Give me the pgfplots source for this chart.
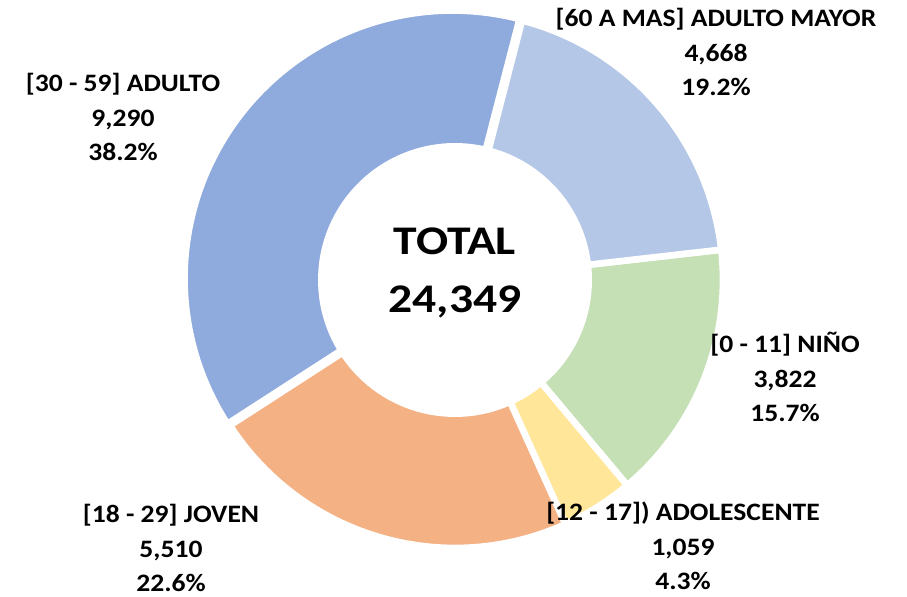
\documentclass[border=0pt]{standalone}
\usepackage{pgfplots}
\pgfplotsset{compat=1.18}
\usepackage{fontspec}
\setmainfont{Carlito}

\definecolor{cNino}{HTML}{C5E0B4}
\definecolor{cAdol}{HTML}{FFE699}
\definecolor{cJoven}{HTML}{F4B183}
\definecolor{cAdulto}{HTML}{8FAADC}
\definecolor{cMayor}{HTML}{B4C7E7}

% values
\def\vNino{3822}
\def\vAdol{1059}
\def\vJoven{5510}
\def\vAdulto{9290}
\def\vMayor{4668}

% geometry (pixel units)
\def\cx{455}
\def\cy{313}
\def\R{268}
\def\rin{137}

% totals in thousands to stay inside pgfmath range
\pgfmathsetmacro{\tot}{\vNino/1000+\vAdol/1000+\vJoven/1000+\vAdulto/1000+\vMayor/1000}
\pgfmathsetmacro{\aA}{6.5}
\pgfmathsetmacro{\aB}{\aA-360*(\vNino/1000)/\tot}
\pgfmathsetmacro{\aC}{\aB-360*(\vAdol/1000)/\tot}
\pgfmathsetmacro{\aD}{\aC-360*(\vJoven/1000)/\tot}
\pgfmathsetmacro{\aE}{\aD-360*(\vAdulto/1000)/\tot}
\pgfmathsetmacro{\aF}{\aE-360*(\vMayor/1000)/\tot}

\begin{document}
\begin{tikzpicture}[
    wedge/.style={draw=white, line width=5pt, line join=round, samples=90, variable=\t},
    lab/.style={font=\bfseries\fontsize{18.8}{26}\selectfont, align=center, xscale=1.1},
]
\begin{axis}[
    width=680.25pt, height=444.75pt,
    scale only axis,
    xmin=0, xmax=907, ymin=0, ymax=593,
    hide axis,
    clip=false,
]
\path (rel axis cs:0,0) -- (rel axis cs:1,1);

\addplot[wedge, fill=cNino, domain=\aB:\aA]
    ({\cx+\R*cos(\t)},{\cy+\R*sin(\t)}) -- (axis cs:\cx,\cy) -- cycle;
\addplot[wedge, fill=cAdol, domain=\aC:\aB]
    ({\cx+\R*cos(\t)},{\cy+\R*sin(\t)}) -- (axis cs:\cx,\cy) -- cycle;
\addplot[wedge, fill=cJoven, domain=\aD:\aC]
    ({\cx+\R*cos(\t)},{\cy+\R*sin(\t)}) -- (axis cs:\cx,\cy) -- cycle;
\addplot[wedge, fill=cAdulto, domain=\aE:\aD]
    ({\cx-2.5+\R*cos(\t)},{\cy+1.5+\R*sin(\t)}) -- (axis cs:\cx-2.5,\cy+1.5) -- cycle;
\addplot[wedge, fill=cMayor, domain=\aF:\aE]
    ({\cx+\R*cos(\t)},{\cy+\R*sin(\t)}) -- (axis cs:\cx,\cy) -- cycle;

% hole
\addplot[fill=white, draw=none, domain=0:360, samples=120, variable=\t]
    ({\cx+\rin*cos(\t)},{\cy+\rin*sin(\t)}) -- cycle;

\node[font=\bfseries\fontsize{30.5}{43}\selectfont, align=center, xscale=1.17]
    at (axis cs:455,320) {TOTAL\\24,349};

\node[lab] at (axis cs:716,541) {[60 A MAS] ADULTO MAYOR\\4,668\\19.2\%};
\node[lab] at (axis cs:123,476) {[30 - 59] ADULTO\\9,290\\38.2\%};
\node[lab] at (axis cs:785,216) {[0 - 11] NIÑO\\3,822\\15.7\%};
\node[lab] at (axis cs:683,47) {[12 - 17]) ADOLESCENTE\\1,059\\4.3\%};
\node[lab] at (axis cs:171,45) {[18 - 29] JOVEN\\5,510\\22.6\%};
\end{axis}
\end{tikzpicture}
\end{document}
